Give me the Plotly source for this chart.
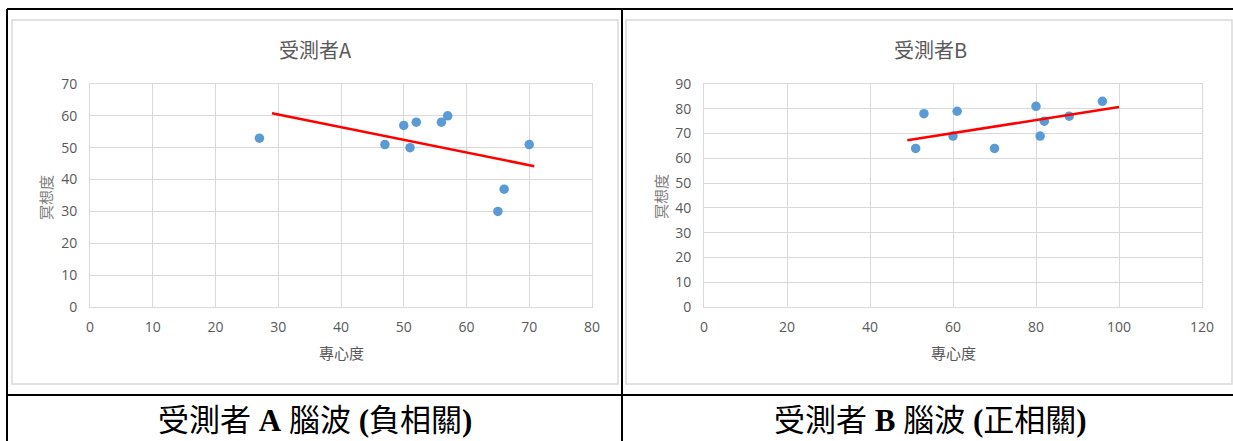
import plotly.graph_objects as go

# 受測者A：專心度 vs 冥想度
a_focus = [27, 47, 50, 51, 52, 56, 57, 65, 66, 70]
a_meditation = [53, 51, 57, 50, 58, 58, 60, 30, 37, 51]
a_trend_x = [29, 70.8]
a_trend_y = [60.8, 44.2]

# 受測者B：專心度 vs 冥想度
b_focus = [51, 53, 60, 61, 70, 80, 81, 82, 88, 96]
b_meditation = [64, 78, 69, 79, 64, 81, 69, 75, 77, 83]
b_trend_x = [49, 100]
b_trend_y = [67.3, 80.7]

a_xticks = [0, 10, 20, 30, 40, 50, 60, 70, 80]
a_yticks = [0, 10, 20, 30, 40, 50, 60, 70]
b_xticks = [0, 20, 40, 60, 80, 100, 120]
b_yticks = [0, 10, 20, 30, 40, 50, 60, 70, 80, 90]

chart_titles = ["受測者A", "受測者B"]
x_title = "專心度"
y_title = "冥想度"
captions = ["受測者 <b>A</b> 腦波 <b>(</b>負相關<b>)</b>",
            "受測者 <b>B</b> 腦波 <b>(</b>正相關<b>)</b>"]

W, H = 1233, 441
GRAY = "#595959"
GRID = "#d9d9d9"
BLUE = "#5B9BD5"
CJK = "Noto Sans CJK TC"


def px(x):
    return x / W


def py(y):
    return 1 - y / H


fig = go.Figure()

fig.add_trace(go.Scatter(x=a_focus, y=a_meditation, mode="markers",
                         marker=dict(color=BLUE, size=9.5, line=dict(width=0)),
                         xaxis="x", yaxis="y", showlegend=False))
fig.add_trace(go.Scatter(x=a_trend_x, y=a_trend_y, mode="lines",
                         line=dict(color="#FF0000", width=2.5), xaxis="x", yaxis="y",
                         showlegend=False))
fig.add_trace(go.Scatter(x=b_focus, y=b_meditation, mode="markers",
                         marker=dict(color=BLUE, size=9.5, line=dict(width=0)),
                         xaxis="x2", yaxis="y2", showlegend=False))
fig.add_trace(go.Scatter(x=b_trend_x, y=b_trend_y, mode="lines",
                         line=dict(color="#FF0000", width=2.5), xaxis="x2", yaxis="y2",
                         showlegend=False))

tick_font = dict(family="Open Sans, Liberation Sans", size=14, color=GRAY)


def xaxis(domain, ticks, anchor):
    return dict(domain=domain, range=[ticks[0], ticks[-1]], tickvals=ticks,
                showgrid=True, gridcolor=GRID, gridwidth=1, zeroline=False,
                showline=True, linecolor=GRID, linewidth=1, mirror=True,
                tickfont=tick_font, ticks="", ticklabelstandoff=7,
                anchor=anchor, fixedrange=True, automargin=False)


def yaxis(domain, ticks, anchor):
    return dict(domain=domain, range=[ticks[0], ticks[-1]], tickvals=ticks,
                showgrid=True, gridcolor=GRID, gridwidth=1, zeroline=False,
                showline=True, linecolor=GRID, linewidth=1, mirror=True,
                tickfont=tick_font, ticks="", ticklabelstandoff=9,
                anchor=anchor, fixedrange=True, automargin=False)


y_dom = [py(307), py(84)]
fig.update_layout(
    template="none",
    width=W, height=H, autosize=False,
    margin=dict(l=0, r=0, t=0, b=0, pad=0, autoexpand=False),
    paper_bgcolor="white", plot_bgcolor="white",
    xaxis=xaxis([px(90), px(592)], a_xticks, "y"),
    yaxis=yaxis(y_dom, a_yticks, "x"),
    xaxis2=xaxis([px(704), px(1202)], b_xticks, "y2"),
    yaxis2=yaxis(y_dom, b_yticks, "x2"),
)

shapes = []
# chart area frames
for x0, x1 in [(12, 618), (626, 1232)]:
    shapes.append(dict(type="rect", xref="paper", yref="paper",
                       x0=px(x0), x1=px(x1), y0=py(384), y1=py(20),
                       fillcolor="rgba(0,0,0,0)", opacity=1,
                       line=dict(color=GRID, width=1.5), layer="below"))
# table rules
black = dict(color="black", width=2)
for x0, x1, y0, y1 in [(7, W, 9, 9), (7, W, 395, 395), (7, 7, 9, H), (622, 622, 9, H)]:
    shapes.append(dict(type="line", xref="paper", yref="paper",
                       x0=px(x0), x1=px(x1), y0=py(y0), y1=py(y1),
                       opacity=1, line=black))
fig.update_layout(shapes=shapes)

annotations = []
for cx, title, cap in [(315, chart_titles[0], captions[0]), (930, chart_titles[1], captions[1])]:
    annotations.append(dict(text=title, x=px(cx), y=py(49), xref="paper", yref="paper",
                            showarrow=False, xanchor="center", yanchor="middle",
                            font=dict(family=CJK, size=20, color=GRAY)))
    annotations.append(dict(text=cap, x=px(cx), y=py(420), xref="paper", yref="paper",
                            showarrow=False, xanchor="center", yanchor="middle",
                            font=dict(family="Liberation Serif, " + CJK, size=31, color="black")))
for cx in [341, 953]:
    annotations.append(dict(text=x_title, x=px(cx), y=py(352), xref="paper", yref="paper",
                            showarrow=False, xanchor="center", yanchor="middle",
                            font=dict(family=CJK, size=15, color=GRAY)))
for cx in [45, 660]:
    annotations.append(dict(text=y_title, x=px(cx), y=py(197), xref="paper", yref="paper",
                            showarrow=False, xanchor="center", yanchor="middle", textangle=-90,
                            font=dict(family=CJK, size=15, color="#7f7f7f")))
fig.update_layout(annotations=annotations)

fig.write_html("out.html")
